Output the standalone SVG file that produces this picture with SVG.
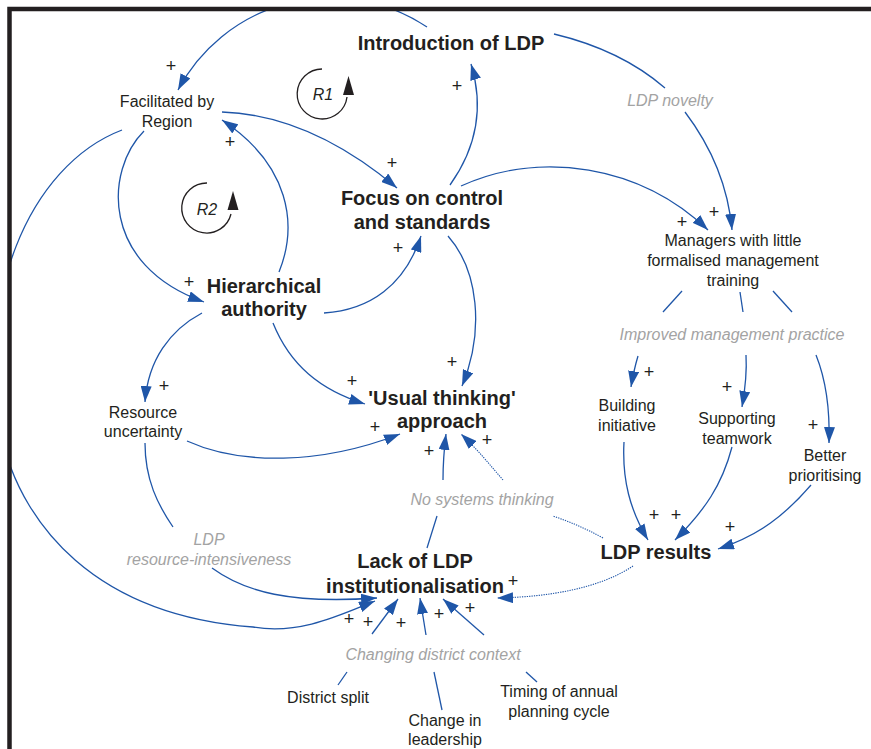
<svg xmlns="http://www.w3.org/2000/svg" width="871" height="749" viewBox="0 0 871 749">
<style>
.c{fill:none;stroke:#1f56a8;stroke-width:1.3}
.d{fill:none;stroke:#1f56a8;stroke-width:1.1;stroke-dasharray:1.3 1.1}
.a{marker-end:url(#ah)}
.lp{fill:none;stroke:#231f20;stroke-width:1.3}
.b{font-family:"Liberation Sans",Arial,sans-serif;font-weight:bold;font-size:20px;fill:#231f20;text-anchor:middle}
.r{font-family:"Liberation Sans",Arial,sans-serif;font-size:16px;fill:#231f20;text-anchor:middle}
.g{font-family:"Liberation Sans",Arial,sans-serif;font-style:italic;font-size:16px;fill:#a3a3a3;text-anchor:middle}
.p{font-family:"Liberation Sans",Arial,sans-serif;font-size:18px;fill:#231f20;text-anchor:middle}
</style>
<defs>
<marker id="ah" viewBox="0 0 16 11" refX="16" refY="5.5" markerWidth="16" markerHeight="11" markerUnits="userSpaceOnUse" orient="auto"><path d="M0,0 L16,5.5 L0,11 z" fill="#1f56a8"/></marker>
<clipPath id="fr"><rect x="11" y="11" width="860" height="738"/></clipPath>
</defs>
<rect width="871" height="749" fill="#fff"/>

<g id="connectors" clip-path="url(#fr)">
<path class="c a" d="M427,27 A173,173 0 0 0 178,90"/>
<path class="c a" d="M222,112 Q310,115 397,188"/>
<path class="c a" d="M279,272 C298,225 290,165 222,120"/>
<path class="c a" d="M144,131 C105,170 100,265 204,302"/>
<path class="c a" d="M122,130 C30,165 -30,300 5,450 C25,520 90,615 253,627 C300,635 340,615 375,601"/>
<path class="c a" d="M202,313 C170,330 148,360 145,402"/>
<path class="c a" d="M324,313 C370,310 405,285 421,236"/>
<path class="c a" d="M273,323 C290,365 320,390 365,404"/>
<path class="c a" d="M187,441 C240,465 320,465 400,434"/>
<path class="c" d="M145,443 C145,480 158,505 173,527"/>
<path class="c a" d="M212,568 C245,592 290,604 377,598"/>
<path class="c a" d="M450,185 C475,150 485,110 471,64"/>
<path class="c a" d="M461,186 C540,150 640,165 708,230"/>
<path class="c" d="M554,34 C600,45 635,62 665,88"/>
<path class="c a" d="M685,112 C710,145 728,185 732,230"/>
<path class="c a" d="M448,236 C478,270 485,330 462,386"/>
<path class="c" d="M682,291 L663,312"/>
<path class="c a" d="M638,356 C635,366 633,375 631,387"/>
<path class="c" d="M740,292 L743,312"/>
<path class="c a" d="M746,355 C747,372 745,390 742,407"/>
<path class="c" d="M773,291 L792,312"/>
<path class="c a" d="M816,355 C826,380 830,410 829,443"/>
<path class="c a" d="M624,442 C622,480 630,510 648,540"/>
<path class="c a" d="M732,447 C722,485 705,510 675,540"/>
<path class="c a" d="M811,485 C785,515 760,535 718,549"/>
<path class="d" d="M603,538 C585,528 570,522 553,516"/>
<path class="d a" d="M503,480 C490,465 478,450 461,434"/>
<path class="c" d="M427,548 L437,516"/>
<path class="c a" d="M443,480 C443,465 444,450 446,434"/>
<path class="d a" d="M633,566 C600,588 550,597 497,598"/>
<path class="c" d="M338,685 L347,672"/>
<path class="c a" d="M372,634 L398,599"/>
<path class="c" d="M434,672 L442,710"/>
<path class="c a" d="M426,635 L420,598"/>
<path class="c" d="M526,672 L537,682"/>
<path class="c a" d="M484,635 L443,599"/>
</g>

<g id="frame" fill="none" stroke="#231f20" stroke-width="4.5">
<path d="M9.5,749 L9.5,9 L871,9"/>
</g>

<g id="loopR1">
<path class="lp" d="M322,69 A25,25 0 1 0 347,97"/>
<path d="M348.5,76 L343,95 L354,95 z" fill="#231f20"/>
<text class="r" x="323" y="100" font-style="italic">R1</text>
</g>
<g id="loopR2">
<path class="lp" d="M207,183 A25,25 0 1 0 231,214"/>
<path d="M233,191 L227.5,210 L238.5,210 z" fill="#231f20"/>
<text class="r" x="207" y="215" font-style="italic">R2</text>
</g>

<g id="introduction"><text class="b" x="451" y="50">Introduction of LDP</text></g>
<g id="facilitated"><text class="r" x="167" y="107">Facilitated by</text><text class="r" x="167" y="127">Region</text></g>
<g id="focus"><text class="b" x="422" y="205">Focus on control</text><text class="b" x="422" y="229">and standards</text></g>
<g id="hierarchical"><text class="b" x="264" y="293">Hierarchical</text><text class="b" x="264" y="316">authority</text></g>
<g id="managers"><text class="r" x="733" y="246">Managers with little</text><text class="r" x="733" y="266">formalised management</text><text class="r" x="733" y="286">training</text></g>
<g id="building"><text class="r" x="627" y="411">Building</text><text class="r" x="627" y="431">initiative</text></g>
<g id="supporting"><text class="r" x="737" y="424">Supporting</text><text class="r" x="737" y="444">teamwork</text></g>
<g id="better"><text class="r" x="825" y="461">Better</text><text class="r" x="825" y="481">prioritising</text></g>
<g id="usual"><text class="b" x="442" y="405">'Usual thinking'</text><text class="b" x="442" y="428">approach</text></g>
<g id="resource"><text class="r" x="143" y="418">Resource</text><text class="r" x="143" y="437">uncertainty</text></g>
<g id="lack"><text class="b" x="415" y="568">Lack of LDP</text><text class="b" x="415" y="593">institutionalisation</text></g>
<g id="results"><text class="b" x="656" y="559">LDP results</text></g>
<g id="district"><text class="r" x="328" y="703">District split</text></g>
<g id="leadership"><text class="r" x="445" y="726">Change in</text><text class="r" x="445" y="745">leadership</text></g>
<g id="timing"><text class="r" x="559" y="697">Timing of annual</text><text class="r" x="559" y="717">planning cycle</text></g>

<g id="labels">
<text class="g" x="670" y="106">LDP novelty</text>
<text class="g" x="732" y="340">Improved management practice</text>
<text class="g" x="482" y="505">No systems thinking</text>
<text class="g" x="209" y="545">LDP</text>
<text class="g" x="209" y="565">resource-intensiveness</text>
<text class="g" x="433" y="660">Changing district context</text>
</g>

<g id="polarities">
<text class="p" x="171" y="72">+</text>
<text class="p" x="230" y="148">+</text>
<text class="p" x="392" y="169">+</text>
<text class="p" x="457" y="92">+</text>
<text class="p" x="714" y="218">+</text>
<text class="p" x="682" y="228">+</text>
<text class="p" x="398" y="254">+</text>
<text class="p" x="189" y="288">+</text>
<text class="p" x="164" y="392">+</text>
<text class="p" x="352" y="387">+</text>
<text class="p" x="452" y="368">+</text>
<text class="p" x="375" y="433">+</text>
<text class="p" x="429" y="457">+</text>
<text class="p" x="487" y="446">+</text>
<text class="p" x="649" y="378">+</text>
<text class="p" x="727" y="393">+</text>
<text class="p" x="813" y="431">+</text>
<text class="p" x="654" y="521">+</text>
<text class="p" x="676" y="521">+</text>
<text class="p" x="730" y="533">+</text>
<text class="p" x="513" y="587">+</text>
<text class="p" x="470" y="614">+</text>
<text class="p" x="439" y="620">+</text>
<text class="p" x="401" y="629">+</text>
<text class="p" x="349" y="625">+</text>
<text class="p" x="368" y="628">+</text>
</g>
</svg>
